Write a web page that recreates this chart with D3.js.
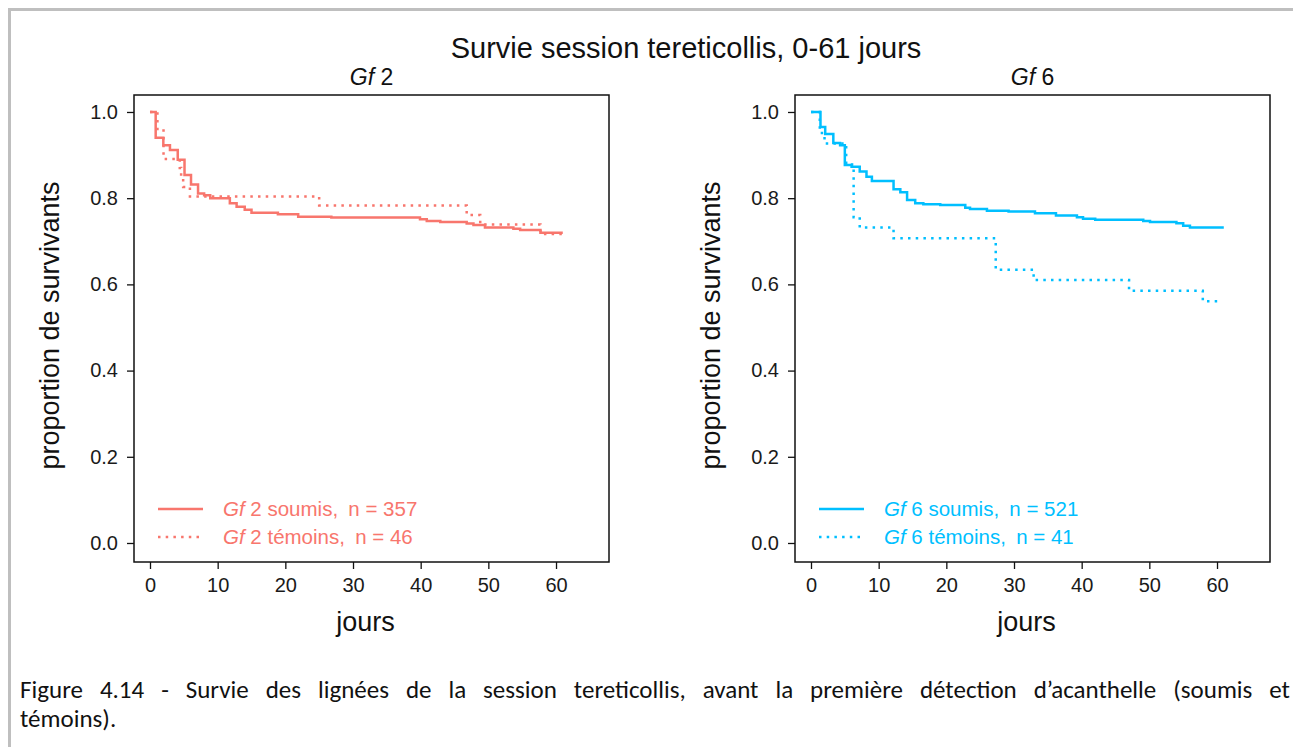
<!DOCTYPE html>
<html><head><meta charset="utf-8">
<script src="https://cdn.jsdelivr.net/npm/d3@7"></script>
<style>
body{margin:0;background:#fff}
svg{display:block}
</style>
</head><body>
<svg id="c" width="1293" height="747" font-family="Liberation Sans, Arial, sans-serif"></svg>
<script>
// ---------------- data ----------------
const xTicks = [0, 10, 20, 30, 40, 50, 60];
const yTicks = [0, 0.2, 0.4, 0.6, 0.8, 1.0];

const gf2SoumisT = [0, 0.84, 1.97, 2.95, 4.1, 5.1, 6.06, 7.1, 8.0, 8.9, 11.8, 12.8, 14.0, 15.0, 18.9, 21.9, 26.8, 39.9, 40.9, 42.9, 46.8, 47.8, 49.5, 53.7, 54.7, 57.7, 61];
const gf2SoumisS = [1, 0.940, 0.923, 0.912, 0.889, 0.854, 0.832, 0.811, 0.807, 0.800, 0.788, 0.780, 0.773, 0.766, 0.763, 0.757, 0.755, 0.751, 0.747, 0.745, 0.741, 0.738, 0.732, 0.729, 0.726, 0.720, 0.720];

const gf2TemoinsT = [0, 1.1, 2.0, 4.4, 4.6, 4.9, 5.9, 25.0, 46.8, 48.8, 57.7, 61];
const gf2TemoinsS = [1, 0.957, 0.891, 0.870, 0.848, 0.826, 0.804, 0.783, 0.761, 0.739, 0.717, 0.717];

const gf6SoumisT = [0, 1.4, 2.1, 3.3, 4.3, 5.0, 6.0, 7.2, 8.2, 9.0, 12.2, 13.2, 14.2, 15.4, 16.6, 19.1, 22.8, 23.5, 26.0, 29.2, 33.1, 36.2, 39.3, 40.2, 42.0, 49.1, 50.1, 54.0, 55.0, 56.0, 61];
const gf6SoumisS = [1, 0.965, 0.949, 0.928, 0.923, 0.877, 0.873, 0.862, 0.850, 0.840, 0.821, 0.814, 0.796, 0.788, 0.786, 0.784, 0.778, 0.775, 0.771, 0.769, 0.765, 0.760, 0.756, 0.752, 0.750, 0.747, 0.745, 0.742, 0.736, 0.732, 0.732];

const gf6TemoinsT = [0, 1.3, 2.0, 5.2, 6.3, 7.2, 12.2, 27.3, 32.9, 47.0, 57.9, 60.5];
const gf6TemoinsS = [1, 0.951, 0.927, 0.878, 0.756, 0.732, 0.707, 0.634, 0.610, 0.585, 0.561, 0.561];

const panelNames = ["2", "6"];
const legendN = [["357", "46"], ["521", "41"]];
const colors = ["#F8766D", "#00BFFF"];

const mainTitle = "Survie session tereticollis, 0-61 jours";
const xLabel = "jours";
const yLabel = "proportion de survivants";
const captionLine1 = "Figure 4.14 - Survie des lignées de la session tereticollis, avant la première détection d’acanthelle (soumis et";
const captionLine2 = "témoins).";

// ---------------- drawing ----------------
const svg = d3.select("#c");

// figure frame
svg.append("path").attr("d", "M9.5,747 L9.5,9.5 L1293,9.5")
  .attr("fill", "none").attr("stroke", "#bfbfbf").attr("stroke-width", 3);

svg.append("text").attr("x", 686).attr("y", 58).attr("text-anchor", "middle")
  .attr("font-size", 29).attr("fill", "#111").text(mainTitle);

const xlim = [-2.364, 67.83];
const ylim = [-0.0441, 1.0394];
const boxes = [{l: 134, r: 609}, {l: 795, r: 1270}];
const boxTop = 95, boxBottom = 562;

const series = [
  [{t: gf2SoumisT, s: gf2SoumisS, dot: false}, {t: gf2TemoinsT, s: gf2TemoinsS, dot: true}],
  [{t: gf6SoumisT, s: gf6SoumisS, dot: false}, {t: gf6TemoinsT, s: gf6TemoinsS, dot: true}]
];

const DASH = "2.5,5.2";

boxes.forEach((b, pi) => {
  const x = d3.scaleLinear().domain(xlim).range([b.l, b.r]);
  const y = d3.scaleLinear().domain(ylim).range([boxBottom, boxTop]);
  const g = svg.append("g");
  const col = colors[pi];

  // subtitle
  const st = g.append("text").attr("x", (b.l + b.r) / 2).attr("y", 85)
    .attr("text-anchor", "middle").attr("font-size", 23).attr("fill", "#111");
  st.append("tspan").attr("font-style", "italic").text("Gf");
  st.append("tspan").text(" " + panelNames[pi]);

  // curves
  const line = d3.line().curve(d3.curveStepAfter)
    .x(d => x(d[0])).y(d => y(d[1]));
  series[pi].forEach(sr => {
    const pts = sr.t.map((t, i) => [t, sr.s[i]]);
    g.append("path").attr("d", line(pts)).attr("fill", "none")
      .attr("stroke", col).attr("stroke-width", 2.5)
      .attr("stroke-dasharray", sr.dot ? DASH : null);
  });

  // box
  g.append("rect").attr("x", b.l).attr("y", boxTop).attr("width", b.r - b.l).attr("height", boxBottom - boxTop)
    .attr("fill", "none").attr("stroke", "#111").attr("stroke-width", 1.5);

  // axes
  const ax = g.append("g").attr("transform", `translate(0,${boxBottom})`)
    .call(d3.axisBottom(x).tickValues(xTicks).tickSize(7).tickPadding(9).tickFormat(d3.format("d")));
  const ay = g.append("g").attr("transform", `translate(${b.l},0)`)
    .call(d3.axisLeft(y).tickValues(yTicks).tickSize(7).tickPadding(9).tickFormat(d3.format(".1f")));
  [ax, ay].forEach(a => {
    a.select(".domain").remove();
    a.attr("font-family", null).attr("font-size", null);
    a.selectAll("line").attr("stroke", "#111").attr("stroke-width", 1.3);
    a.selectAll("text").attr("font-size", 20).attr("fill", "#1a1a1a");
  });

  // axis titles
  g.append("text").attr("x", (b.l + b.r) / 2 - 6).attr("y", 631).attr("text-anchor", "middle")
    .attr("font-size", 27).attr("fill", "#111").text(xLabel);
  g.append("text").attr("transform", `translate(${b.l - 84},${(boxTop + boxBottom) / 2 - 3}) rotate(-90)`)
    .attr("text-anchor", "middle").attr("dy", "0.35em")
    .attr("font-size", 27).attr("fill", "#111").text(yLabel);

  // legend
  const labels = ["soumis,\u2002n = " + legendN[pi][0], "témoins,\u2002n = " + legendN[pi][1]];
  [509, 537].forEach((ly, li) => {
    g.append("line").attr("x1", b.l + 24).attr("x2", b.l + 69).attr("y1", ly).attr("y2", ly)
      .attr("stroke", col).attr("stroke-width", 2.5)
      .attr("stroke-dasharray", li === 1 ? DASH : null);
    const t = g.append("text").attr("x", b.l + 89).attr("y", ly + 7)
      .attr("font-size", 20.5).attr("fill", col);
    t.append("tspan").attr("font-style", "italic").text("Gf");
    t.append("tspan").text(" " + panelNames[pi] + " " + labels[li]);
  });
});

// caption (justified first line)
const CAP_FONT = "Carlito, Lato, sans-serif";
const CAP_SIZE = "25px";
function justify(text, x0, x1, yb) {
  const words = text.split(" ");
  const g = svg.append("g").attr("fill", "#111");
  const nodes = words.map(w => g.append("text").attr("y", yb)
    .style("font-family", CAP_FONT).style("font-size", CAP_SIZE).text(w));
  const widths = nodes.map(n => n.node().getComputedTextLength());
  const gap = (x1 - x0 - d3.sum(widths)) / (words.length - 1);
  let xx = x0;
  nodes.forEach((n, i) => { n.attr("x", xx); xx += widths[i] + gap; });
}
justify(captionLine1, 20, 1290, 698);
svg.append("text").attr("x", 20).attr("y", 727).style("font-family", CAP_FONT)
  .style("font-size", CAP_SIZE).attr("fill", "#111").text(captionLine2);
</script>
</body></html>
